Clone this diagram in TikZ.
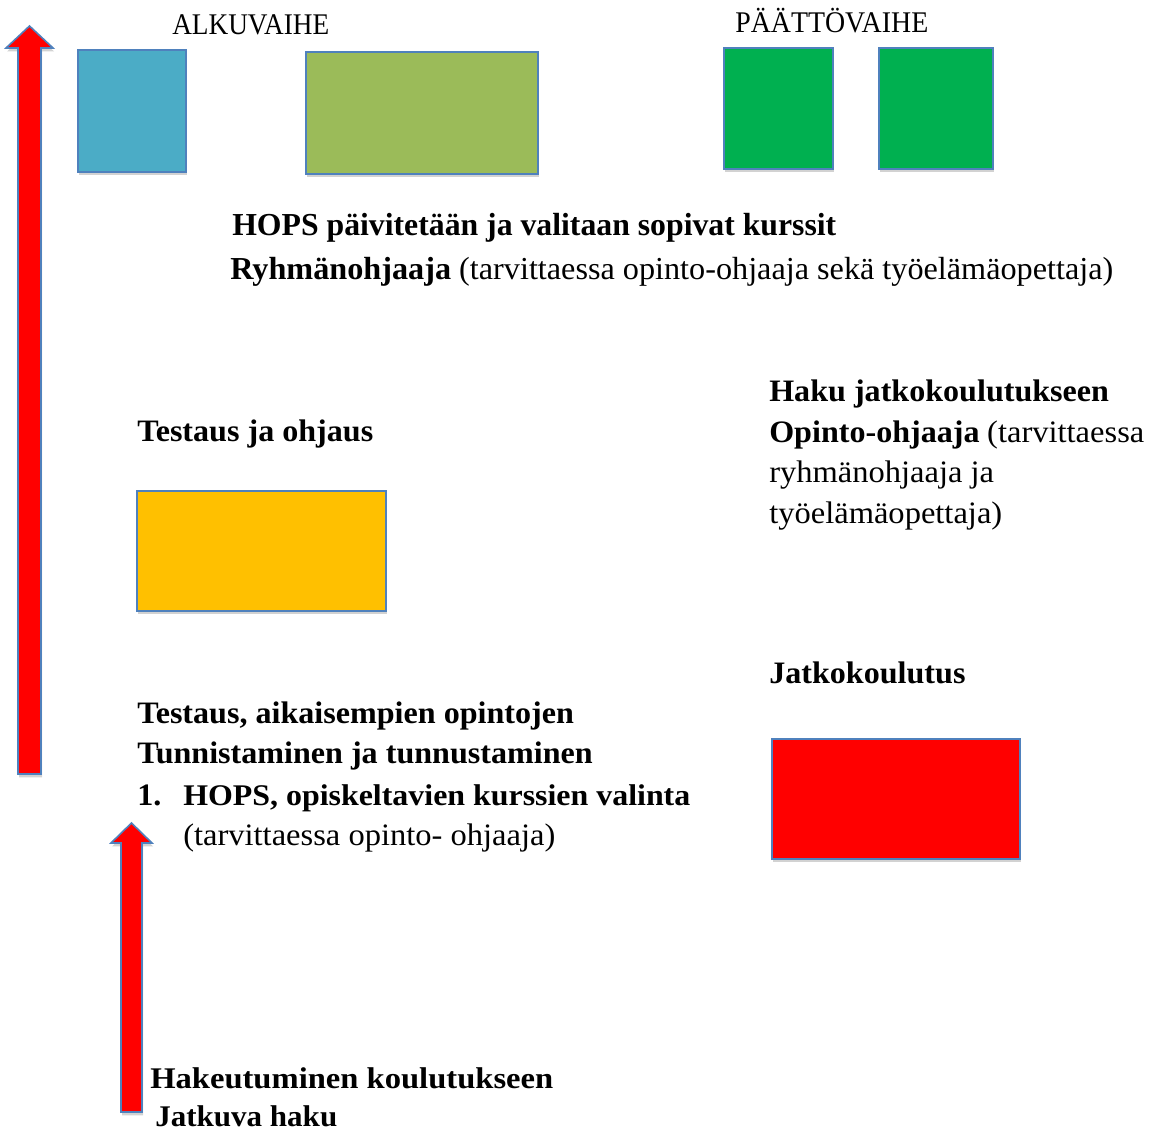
\documentclass[tikz,border=0pt]{standalone}
\usepackage{fontspec}
\setmainfont{Liberation Serif}
\usetikzlibrary{shadows}
\newdimen\pxu \pxu=0.75pt
\definecolor{boxline}{HTML}{4F81BD}
\definecolor{cblue}{HTML}{4BACC6}
\definecolor{colive}{HTML}{9BBB59}
\definecolor{cgreen}{HTML}{00B050}
\definecolor{corange}{HTML}{FFC000}
\definecolor{cred}{HTML}{FF0000}
\newcommand{\rg}[1]{\scalebox{1.084}[1.04]{#1}}
\newcommand{\bd}[1]{\scalebox{1.07}[1.04]{\bfseries #1}}
\newcommand{\fitw}[2]{\resizebox{#1\pxu}{\height}{#2}}
\tikzset{
  shade box/.style={draw=boxline, line width=1.2pt,
    drop shadow={shadow xshift=0.8pt, shadow yshift=-2.6pt, opacity=0.32, fill=black!55}},
  txt/.style={anchor=base west, inner sep=0pt, font=\fontsize{22.5}{27}\selectfont},
  toptxt/.style={anchor=base west, inner sep=0pt, font=\fontsize{24}{29}\selectfont},
}
\begin{document}
\begin{tikzpicture}[x=0.75pt, y=-0.75pt]
\useasboundingbox (0,0) rectangle (1150,1135);

% coloured boxes
\path[shade box, fill=cblue] (78,50) rectangle (186,172);
\path[shade box, fill=colive] (306,52) rectangle (538,174);
\path[shade box, fill=cgreen] (724,48) rectangle (833,169);
\path[shade box, fill=cgreen] (879,48) rectangle (993,169);
\path[shade box, fill=corange] (137,491) rectangle (386,611);
\path[shade box, fill=cred] (772,739) rectangle (1020,859);

% big upward arrow
\path[shade box, fill=cred, line join=miter]
  (18,774) -- (18,48) -- (6,48) -- (29.5,26) -- (53,48) -- (41,48) -- (41,774) -- cycle;
% small upward arrow
\path[shade box, fill=cred, line join=miter]
  (121,1112) -- (121,843) -- (111,843) -- (131.5,823) -- (152,843) -- (142,843) -- (142,1112) -- cycle;

% phase titles
\node[txt] (alku) at (172,34) {\fitw{157}{ALKUVAIHE}};
\node[txt] (paatto) at (735,33) {\fitw{193}{PÄÄTTÖVAIHE}};

% top text
\node[toptxt] (hops) at (232,235) {\fitw{604}{\bfseries HOPS päivitetään ja valitaan sopivat kurssit}};
\node[toptxt] (ryhma) at (230,279) {\fitw{883}{\textbf{Ryhmänohjaaja} (tarvittaessa opinto-ohjaaja sekä työelämäopettaja)}};

% left middle
\node[txt] (testaus) at (137,441) {\bd{Testaus ja ohjaus}};

% right block
\node[txt] (haku) at (769,401) {\bd{Haku jatkokoulutukseen}};
\node[txt] (opinto) at (769,442) {\bd{Opinto-ohjaaja} \rg{(tarvittaessa}};
\node[txt] (ryhm2) at (769,482) {\rg{ryhmänohjaaja ja}};
\node[txt] (tyo) at (769,523) {\rg{työelämäopettaja)}};

\node[txt] (jatko) at (769,683) {\bd{Jatkokoulutus}};

% lower left block
\node[txt] (t1) at (137,723) {\bd{Testaus, aikaisempien opintojen}};
\node[txt] (t2) at (137,763) {\bd{Tunnistaminen ja tunnustaminen}};
\node[txt] (t3n) at (137,805) {\bd{1.}};
\node[txt] (t3) at (183,805) {\fitw{507}{\bfseries HOPS, opiskeltavien kurssien valinta}};
\node[txt] (t4) at (183,845) {\rg{(tarvittaessa opinto- ohjaaja)}};

% bottom
\node[txt] (hak) at (150,1088) {\fitw{403}{\bfseries Hakeutuminen koulutukseen}};
\node[txt] (jatkuva) at (155,1126) {\fitw{182}{\bfseries Jatkuva haku}};
\end{tikzpicture}
\end{document}
